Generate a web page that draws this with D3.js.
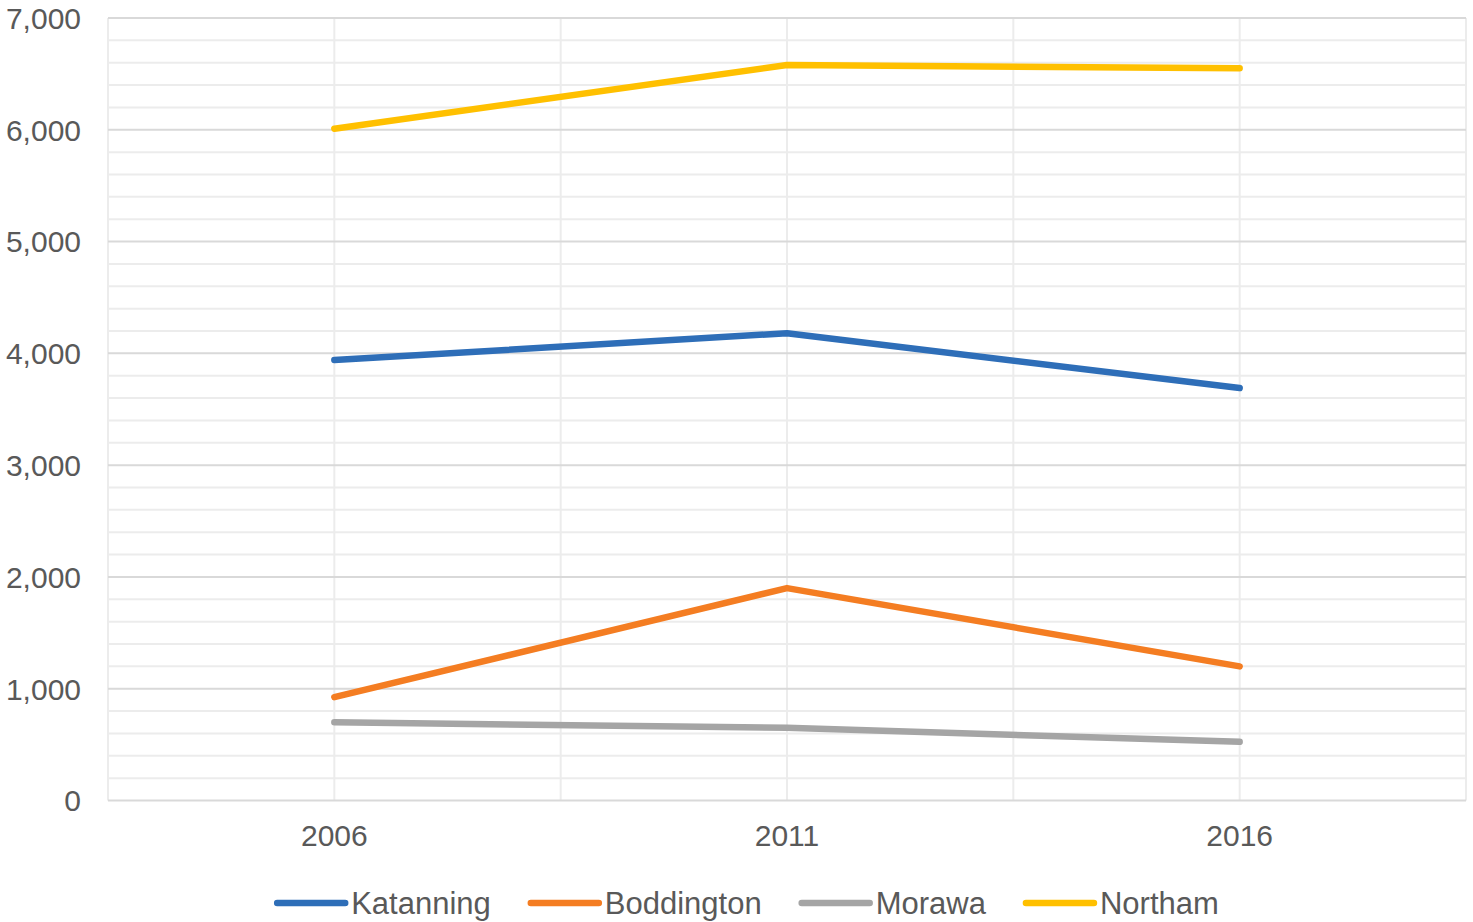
<!DOCTYPE html>
<html>
<head>
<meta charset="utf-8">
<script src="https://cdn.jsdelivr.net/npm/d3@7"></script>
<style>
  html, body { margin: 0; padding: 0; background: #fff; }
  svg { display: block; font-family: "Liberation Sans", Arial, sans-serif; }
</style>
</head>
<body>
<svg id="chart" width="1473" height="922"></svg>
<script>
const years = ["2006", "2011", "2016"];
const seriesNames = ["Katanning", "Boddington", "Morawa", "Northam"];
const seriesColors = ["#2E6EB8", "#F47D22", "#A5A5A5", "#FFC000"];
const katanning = [3940, 4180, 3690];
const boddington = [925, 1900, 1200];
const morawa = [700, 650, 525];
const northam = [6010, 6580, 6550];
const yTicks = [0, 1000, 2000, 3000, 4000, 5000, 6000, 7000];

const seriesValues = [katanning, boddington, morawa, northam];

(function () {
const svg = d3.select("#chart");
const pLeft = 108, pRight = 1466, pTop = 18, pBottom = 800.5;

// x: 6 half-slots across plot, categories at 1, 3, 5
const xLin = d3.scaleLinear().domain([0, 6]).range([pLeft, pRight]);
const xPos = i => xLin(1 + 2 * i);
const y = d3.scaleLinear().domain([0, 7000]).range([pBottom, pTop]);

const g = svg.append("g");

// minor horizontal gridlines
const minor = d3.range(0, 7001, 200).filter(v => v % 1000 !== 0);
g.selectAll(".minor").data(minor).enter().append("line")
  .attr("x1", pLeft).attr("x2", pRight)
  .attr("y1", d => y(d)).attr("y2", d => y(d))
  .attr("stroke", "#ececec").attr("stroke-width", 2);

// vertical gridlines
g.selectAll(".vgrid").data(d3.range(0, 7)).enter().append("line")
  .attr("x1", d => xLin(d)).attr("x2", d => xLin(d))
  .attr("y1", pTop).attr("y2", pBottom)
  .attr("stroke", "#ececec").attr("stroke-width", 2);

// major horizontal gridlines
g.selectAll(".major").data(yTicks).enter().append("line")
  .attr("x1", pLeft).attr("x2", pRight)
  .attr("y1", d => y(d)).attr("y2", d => y(d))
  .attr("stroke", "#d9d9d9").attr("stroke-width", 2);

// y-axis labels
const fmt = d3.format(",");
g.selectAll(".ylab").data(yTicks).enter().append("text")
  .attr("x", 81).attr("y", d => y(d)).attr("dy", "0.36em")
  .attr("text-anchor", "end").attr("font-size", 30).attr("fill", "#595959")
  .text(d => fmt(d));

// x-axis labels
g.selectAll(".xlab").data(years).enter().append("text")
  .attr("x", (d, i) => xPos(i)).attr("y", 835).attr("dy", "0.36em")
  .attr("text-anchor", "middle").attr("font-size", 30).attr("fill", "#595959")
  .text(d => d);

// lines
const line = d3.line().x((d, i) => xPos(i)).y(d => y(d));
seriesValues.forEach((vals, k) => {
  g.append("path").datum(vals)
    .attr("d", line)
    .attr("fill", "none")
    .attr("stroke", seriesColors[k])
    .attr("stroke-width", 6.5)
    .attr("stroke-linecap", "round")
    .attr("stroke-linejoin", "round");
});

// legend
const legend = svg.append("g");
const lineLen = 68, gapText = 6, gapItem = 40, legY = 903, fs = 31;
const items = seriesNames.map((name, k) => {
  const it = legend.append("g");
  it.append("line").attr("x1", 0).attr("x2", lineLen).attr("y1", 0).attr("y2", 0)
    .attr("stroke", seriesColors[k]).attr("stroke-width", 6.5).attr("stroke-linecap", "round");
  const t = it.append("text").attr("x", lineLen + gapText).attr("y", 0).attr("dy", "0.36em")
    .attr("font-size", fs).attr("fill", "#595959").text(name);
  const w = lineLen + gapText + t.node().getComputedTextLength();
  return { it, w };
});
const total = d3.sum(items, d => d.w) + gapItem * (items.length - 1);
let cx = 748 - total / 2;
items.forEach(d => {
  d.it.attr("transform", `translate(${cx},${legY})`);
  cx += d.w + gapItem;
});
})();
</script>
</body>
</html>
